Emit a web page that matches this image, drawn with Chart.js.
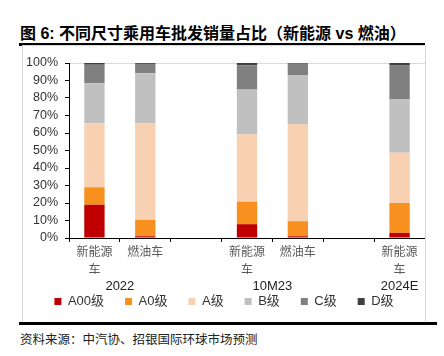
<!DOCTYPE html>
<html>
<head>
<meta charset="utf-8">
<script src="https://cdn.jsdelivr.net/npm/chart.js@4.4.0/dist/chart.umd.min.js"></script>
<style>
  html, body { margin: 0; padding: 0; background: #fff; }
  body { width: 444px; height: 356px; position: relative; overflow: hidden;
         font-family: 'Liberation Sans', 'Noto Sans CJK SC', sans-serif; }
  #title { position: absolute; left: 20px; top: 20px; font-size: 16px; font-weight: bold; color: #000; white-space: nowrap; }
  #rule1 { position: absolute; left: 19px; top: 43px; width: 406px; height: 3px; background: #000; }
  #box { position: absolute; left: 22px; top: 45px; width: 404px; height: 278px; border: 1px solid #d9d9d9; box-sizing: border-box; }
  #box canvas { display: block; }
  #rule2 { position: absolute; left: 19px; top: 322px; width: 418px; height: 3px; background: #000; }
  #src { position: absolute; left: 20px; top: 329px; font-size: 12.5px; color: #222; white-space: nowrap; font-family: 'Noto Sans CJK SC', sans-serif; }
</style>
</head>
<body>
<div id="title">图 6: 不同尺寸乘用车批发销量占比（新能源 vs 燃油）</div>
<div id="rule1"></div>
<div id="box"><canvas id="c" width="402" height="276"></canvas></div>
<div id="rule2"></div>
<div id="src">资料来源：中汽协、招银国际环球市场预测</div>
<script>
// ---- data ----
const categories = [['新能源', '车'], '燃油车', '', ['新能源', '车'], '燃油车', '', ['新能源', '车']];
const groupOfCategory = ['2022', '2022', '', '10M23', '10M23', '', '2024E'];
const seriesNames = ['A00级', 'A0级', 'A级', 'B级', 'C级', 'D级'];
const a00 = [19.0, 1.0, null, 7.9, 1.0, null, 2.9];
const a0  = [10.0, 9.4, null, 12.9, 8.6, null, 17.1];
const aCls = [36.6, 55.2, null, 38.4, 55.6, null, 28.7];
const bCls = [22.9, 28.6, null, 25.6, 27.9, null, 30.7];
const cCls = [10.5, 5.3, null, 13.9, 6.5, null, 19.1];
const dCls = [1.0, 0.5, null, 1.3, 0.4, null, 1.5];
const yTicks = [0, 10, 20, 30, 40, 50, 60, 70, 80, 90, 100];

const colors = ['#C00000', '#F7901E', '#F8D0B2', '#C0C0C0', '#808080', '#404040'];
const seriesData = [a00, a0, aCls, bCls, cCls, dCls];

const groupLabelPlugin = {
  id: 'groupLabels',
  afterDraw(chart) {
    const x = chart.scales.x;
    const ctx = chart.ctx;
    const seen = {};
    groupOfCategory.forEach((g, i) => {
      if (!g) return;
      (seen[g] = seen[g] || []).push(i);
    });
    ctx.save();
    ctx.font = '13px "Liberation Sans", sans-serif';
    ctx.fillStyle = '#222';
    ctx.textAlign = 'center';
    ctx.textBaseline = 'middle';
    Object.keys(seen).forEach(g => {
      const idx = seen[g];
      const cx = (x.getPixelForValue(idx[0]) + x.getPixelForValue(idx[idx.length - 1])) / 2;
      ctx.fillText(g, cx, x.top + 48);
    });
    ctx.restore();
  }
};

Chart.defaults.font.family = "'Liberation Sans', 'Noto Sans CJK SC', sans-serif";
Chart.defaults.color = '#333';

new Chart(document.getElementById('c'), {
  type: 'bar',
  data: {
    labels: categories,
    datasets: seriesNames.map((n, i) => ({
      label: n,
      data: seriesData[i],
      backgroundColor: colors[i],
      borderWidth: 0,
      barPercentage: 1.0,
      categoryPercentage: 0.4
    }))
  },
  options: {
    responsive: false,
    animation: false,
    events: [],
    layout: { padding: { top: 17, right: 0, left: 0, bottom: 4 } },
    plugins: {
      legend: {
        position: 'bottom',
        labels: {
          boxWidth: 7, boxHeight: 7, padding: 21,
          color: '#333',
          font: { size: 13 }
        }
      },
      tooltip: { enabled: false },
      title: { display: false }
    },
    scales: {
      x: {
        stacked: true,
        offset: true,
        grid: { offset: true, drawOnChartArea: false, tickLength: 4, tickColor: '#000' },
        border: { color: '#000', width: 1 },
        ticks: {
          padding: 0,
          color: '#595959',
          font: { size: 12, family: "'Noto Sans CJK SC', sans-serif", lineHeight: 1.5 },
          maxRotation: 0, autoSkip: false
        },
        afterFit(s) { s.height = 36; }
      },
      y: {
        stacked: true,
        min: 0, max: 100,
        afterBuildTicks(s) { s.ticks = yTicks.map(v => ({ value: v })); },
        grid: {
          color: (c) => (c.tick && c.tick.value === 100 ? '#d9d9d9' : 'rgba(0,0,0,0)'),
          tickColor: '#000', tickLength: 4
        },
        border: { color: '#000', width: 1 },
        ticks: {
          padding: 7,
          autoSkip: false,
          color: '#333',
          font: { size: 12.5 },
          callback: (v) => v + '%'
        },
        afterFit(s) { s.width = 46; }
      }
    }
  },
  plugins: [groupLabelPlugin]
});
</script>
</body>
</html>
